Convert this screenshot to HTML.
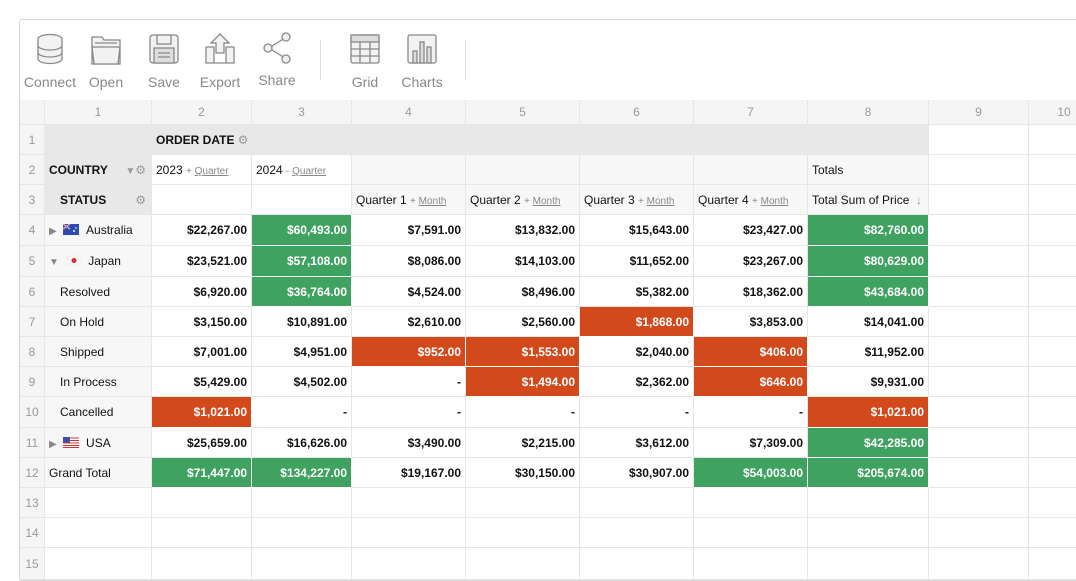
<!DOCTYPE html>
<html><head><meta charset="utf-8">
<style>
body{margin:0;width:1076px;height:571px;overflow:hidden;background:#fff;font-family:"Liberation Sans",sans-serif;}
#panel{position:absolute;left:19px;top:19px;width:1080px;height:560px;border:1px solid #d5d5d5;border-radius:3px;background:#fff;}
.tb{position:absolute;top:0;text-align:center;color:#888;font-size:14px;}
.tb svg{display:block;margin:0 auto;}
.tb span{display:block;margin-top:9px;}
.sep{position:absolute;top:20px;width:1px;height:40px;background:#ddd;}
.c{position:absolute;box-sizing:border-box;border-right:1px solid #e6e6e6;border-bottom:1px solid #e6e6e6;font-size:12px;color:#111;white-space:nowrap;overflow:hidden;line-height:30px;padding:0 4px;}
.hd{color:#999;text-align:center;background:#f5f5f5;}
.v{text-align:right;font-weight:bold;}
.lnk{font-size:10px;color:#888;}
.lnk u{text-decoration:underline;}
</style></head><body>
<div id="panel">
 <div class="tb" style="left:2px;top:13px;width:56px"><svg width="30" height="32" viewBox="0 0 30 32"><g fill="#f2f2f2" stroke="#888" stroke-width="1.3"><ellipse cx="15" cy="6" rx="12" ry="4.5"/><path d="M3 6v20c0 2.5 5.4 4.5 12 4.5s12-2 12-4.5V6"/><path d="M3 12.5c0 2.5 5.4 4.5 12 4.5s12-2 12-4.5M3 19.5c0 2.5 5.4 4.5 12 4.5s12-2 12-4.5" fill="none"/></g></svg><span>Connect</span></div>
 <div class="tb" style="left:63px;top:13px;width:46px"><svg width="32" height="32" viewBox="0 0 32 32"><g fill="#f2f2f2" stroke="#888" stroke-width="1.3"><path d="M2 4h10l2 3h16v24H2z"/><path d="M5 10h22M2 14h28l-2 17H4z"/></g></svg><span>Open</span></div>
 <div class="tb" style="left:122px;top:13px;width:44px"><svg width="32" height="32" viewBox="0 0 32 32"><g fill="#f2f2f2" stroke="#888" stroke-width="1.3"><rect x="2" y="2" width="28" height="28" rx="3"/><rect x="9" y="2" width="14" height="9"/><rect x="6" y="15" width="20" height="15" fill="#ddd"/><path d="M10 20h12M10 24h12"/></g></svg><span>Save</span></div>
 <div class="tb" style="left:177px;top:13px;width:46px"><svg width="32" height="32" viewBox="0 0 32 32"><g fill="#f2f2f2" stroke="#888" stroke-width="1.3"><path d="M2 14h8v16h12V14h8v16H2z"/><path d="M16 1l9 9h-5v10h-8V10H7z"/></g></svg><span>Export</span></div>
 <div class="tb" style="left:236px;top:11px;width:42px"><svg width="32" height="34" viewBox="0 0 32 34"><g fill="#f2f2f2" stroke="#888" stroke-width="1.3"><path d="M8 17L24 7M8 17l16 10"/><circle cx="25" cy="6" r="4"/><circle cx="7" cy="17" r="4"/><circle cx="25" cy="28" r="4"/></g></svg><span style="margin-top:7px">Share</span></div>
 <div class="sep" style="left:300px"></div>
 <div class="tb" style="left:325px;top:13px;width:40px"><svg width="32" height="32" viewBox="0 0 32 32"><g fill="#f2f2f2" stroke="#888" stroke-width="1.3"><rect x="2" y="2" width="28" height="28" rx="2"/><rect x="2" y="2" width="28" height="7" fill="#ddd"/><path d="M2 16h28M2 23h28M11 9v21M21 9v21"/></g></svg><span>Grid</span></div>
 <div class="tb" style="left:379px;top:13px;width:46px"><svg width="32" height="32" viewBox="0 0 32 32"><g fill="#f2f2f2" stroke="#888" stroke-width="1.3"><rect x="2" y="2" width="28" height="28" rx="2"/><rect x="7" y="18" width="4" height="12" fill="#ddd"/><rect x="14" y="9" width="4" height="21" fill="#ddd"/><rect x="21" y="14" width="4" height="16" fill="#ddd"/></g></svg><span>Charts</span></div>
 <div class="sep" style="left:445px"></div>
</div>
<div id="grid"></div>
<script>
const rowLabels=["Australia","Japan","Resolved","On Hold","Shipped","In Process","Cancelled","USA","Grand Total"];
const v2023=[22267,23521,6920,3150,7001,5429,1021,25659,71447];
const v2024=[60493,57108,36764,10891,4951,4502,null,16626,134227];
const vQ1=[7591,8086,4524,2610,952,null,null,3490,19167];
const vQ2=[13832,14103,8496,2560,1553,1494,null,2215,30150];
const vQ3=[15643,11652,5382,1868,2040,2362,null,3612,30907];
const vQ4=[23427,23267,18362,3853,406,646,null,7309,54003];
const vTotal=[82760,80629,43684,14041,11952,9931,1021,42285,205674];
const colEdges=[20,45,152,252,352,466,580,694,808,929,1029,1100];
const rowEdges=[100,125,155,185,215,246,277,307,337,367,397,428,458,488,518,548,580];
const g=document.getElementById('grid');
function cell(ci,ri,html,cls,bg,name,span){
 const d=document.createElement('div');
 d.className='c '+(cls||'');
 const x0=colEdges[ci],x1=colEdges[ci+(span||1)];
 d.style.left=x0+'px';d.style.top=rowEdges[ri]+'px';
 d.style.width=(x1-x0)+'px';d.style.height=(rowEdges[ri+1]-rowEdges[ri])+'px';
 d.style.lineHeight=(rowEdges[ri+1]-rowEdges[ri])+'px';
 if(bg)d.style.background=bg;
 d.innerHTML=html;
 
 
 g.appendChild(d);return d;
}
const fmt=v=>v==null?'-':'$'+v.toLocaleString('en-US')+'.00';
cell(0,0,'','hd','#f5f5f5','corner-cell');
for(let c=1;c<=10;c++)cell(c,0,String(c),'hd','#f5f5f5','column-header-'+c);
for(let r=1;r<=15;r++)cell(0,r,String(r),'hd','#f5f5f5','row-header-'+r);
const gear='<span style="color:#999;font-size:12px">&#9881;</span>';
cell(1,1,'','','#e8e8e8','header-blank');
cell(2,1,'<b>ORDER DATE</b> '+gear,'','#e8e8e8','order-date-header',7);
cell(1,2,'<b>COUNTRY</b><span style="position:absolute;right:5px;color:#999"><span style="font-size:10px">&#9660;</span>'+gear+'</span>','','#e8e8e8','country-header');
cell(1,3,'<b style="margin-left:11px">STATUS</b><span style="position:absolute;right:5px">'+gear+'</span>','','#e8e8e8','status-header');
cell(2,2,'2023 <span class="lnk">+ <u>Quarter</u></span>','','#fff','year-2023-header');
cell(3,2,'2024 <span class="lnk">- <u>Quarter</u></span>','','#fff','year-2024-header');
for(let c=4;c<=7;c++)cell(c,2,'','','#f7f7f7','blank-h2');
cell(8,2,'Totals','','#f7f7f7','totals-header');
cell(2,3,'','','#fff','blank-h3');cell(3,3,'','','#fff','blank-h3');
for(let q=1;q<=4;q++)cell(3+q,3,'Quarter '+q+' <span class="lnk">+ <u>Month</u></span>','','#f7f7f7','quarter-'+q+'-header');
cell(8,3,'Total Sum of Price <span style="color:#999;position:absolute;right:6px">&#8595;</span>','','#f7f7f7','total-sum-header');
for(let r=1;r<=3;r++){cell(9,r,'','','#fff','empty');cell(10,r,'','','#fff','empty');}
const flags={Australia:'<svg width="16" height="11" style="vertical-align:-1px"><rect width="16" height="11" fill="#2b4bb0"/><path d="M0 0l7 5M7 0L0 5" stroke="#fff" stroke-width="1.2"/><path d="M0 0l7 5M7 0L0 5" stroke="#d33" stroke-width=".5"/><circle cx="11" cy="7" r="1" fill="#fff"/><circle cx="13" cy="4" r=".8" fill="#fff"/></svg>',
Japan:'<svg width="16" height="11" style="vertical-align:-1px"><rect width="16" height="11" fill="#f3f3f3"/><circle cx="8" cy="5.5" r="2.5" fill="#c33"/></svg>',
USA:'<svg width="16" height="11" style="vertical-align:-1px"><rect width="16" height="11" fill="#fff"/><path d="M0 1h16M0 3.5h16M0 6h16M0 8.5h16M0 10.5h16" stroke="#c33" stroke-width="1.1"/><rect width="7" height="5.5" fill="#3a4fa8"/></svg>'};
const series=[v2023,v2024,vQ1,vQ2,vQ3,vQ4,vTotal];
rowLabels.forEach((lab,i)=>{
 const r=4+i;let html;
 if(flags[lab]){html='<span style="color:#888;font-size:10px">'+(lab==='Japan'?'&#9660;':'&#9654;')+'</span>&nbsp; '+flags[lab]+' &nbsp;'+lab;}
 else if(lab==='Grand Total')html=lab;
 else html='<span style="margin-left:11px">'+lab+'</span>';
 cell(1,r,html,'','#f7f7f7','row-label-'+lab.toLowerCase().replace(/ /g,'-'));
 series.forEach((s,j)=>{
  const v=s[i];let bg='#fff',col='#111';
  if(v!=null&&v>35000){bg='#3fa260';col='#fff';}
  else if(v!=null&&v<2000){bg='#d2491b';col='#fff';}
  const d=cell(2+j,r,fmt(v),'v',bg,'value-cell');
  d.style.color=col;
  if(bg!=='#fff')d.style.borderRight=d.style.borderBottom='1px solid #fff';
 });
 cell(9,r,'','','#fff','empty');cell(10,r,'','','#fff','empty');
});
for(let r=13;r<=15;r++)for(let c=1;c<=10;c++)cell(c,r,'','','#fff','empty');
</script>
</body></html>
